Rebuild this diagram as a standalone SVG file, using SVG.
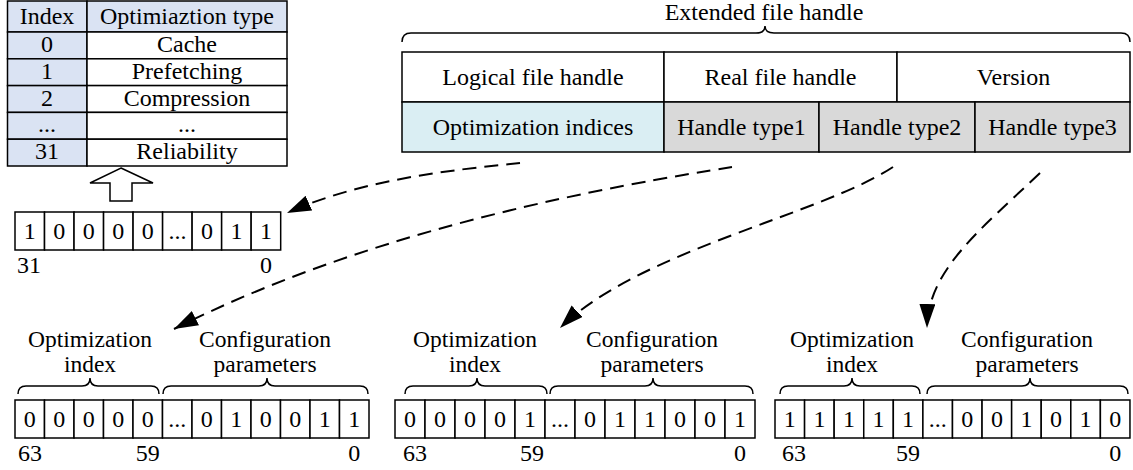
<svg xmlns="http://www.w3.org/2000/svg" width="1133" height="470" viewBox="0 0 1133 470">
<defs>
<style>
text{font-family:'Liberation Serif','Times New Roman',serif;font-size:24px;fill:#000}
.c{text-anchor:middle}
.s{text-anchor:start}
.lbl{font-size:23.5px}
.box{fill:#fff;stroke:#000;stroke-width:1.5}
.idx{fill:#dae3f3;stroke:#000;stroke-width:1.5}
.cyan{fill:#daeef3;stroke:#000;stroke-width:1.5}
.gray{fill:#d9d9d9;stroke:#000;stroke-width:1.5}
.brace{fill:none;stroke:#000;stroke-width:1.5}
.dash{fill:none;stroke:#000;stroke-width:2;stroke-dasharray:14 8}
</style>
<marker id="ah" markerUnits="userSpaceOnUse" markerWidth="26" markerHeight="18" refX="24" refY="8" orient="auto">
<path d="M0,0 L24,8 L0,16 Z" fill="#000"/>
</marker>
</defs>
<g id="index-table">
<rect class="idx" x="7.5" y="1" width="79.5" height="31"/>
<rect class="idx" x="87" y="1" width="200" height="31"/>
<rect class="idx" x="7.5" y="32" width="79.5" height="26.8"/>
<rect class="box" x="87" y="32" width="200" height="26.8"/>
<rect class="idx" x="7.5" y="58.8" width="79.5" height="26.8"/>
<rect class="box" x="87" y="58.8" width="200" height="26.8"/>
<rect class="idx" x="7.5" y="85.6" width="79.5" height="26.8"/>
<rect class="box" x="87" y="85.6" width="200" height="26.8"/>
<rect class="idx" x="7.5" y="112.4" width="79.5" height="26.8"/>
<rect class="box" x="87" y="112.4" width="200" height="26.8"/>
<rect class="idx" x="7.5" y="139.2" width="79.5" height="26.8"/>
<rect class="box" x="87" y="139.2" width="200" height="26.8"/>
<text class="c" x="47" y="24">Index</text>
<text class="c" x="187" y="24">Optimiaztion type</text>
<text class="c" x="47" y="52">0</text><text class="c" x="187" y="52">Cache</text>
<text class="c" x="47" y="79">1</text><text class="c" x="187" y="79">Prefetching</text>
<text class="c" x="47" y="105.5">2</text><text class="c" x="187" y="105.5">Compression</text>
<text class="c" x="47" y="132">...</text><text class="c" x="187" y="132">...</text>
<text class="c" x="47" y="159">31</text><text class="c" x="187" y="159">Reliability</text>
</g>
<g id="up-arrow">
<polygon points="121,168 153,183 132,183 132,201 110,201 110,183 90,183" fill="#fff" stroke="#000" stroke-width="1.5"/>
</g>
<g id="bitmap32">
<rect class="box" x="15" y="212" width="29.52" height="38"/>
<rect class="box" x="44.52" y="212" width="29.52" height="38"/>
<rect class="box" x="74.04" y="212" width="29.52" height="38"/>
<rect class="box" x="103.56" y="212" width="29.52" height="38"/>
<rect class="box" x="133.08" y="212" width="29.52" height="38"/>
<rect class="box" x="162.6" y="212" width="29.52" height="38"/>
<rect class="box" x="192.12" y="212" width="29.52" height="38"/>
<rect class="box" x="221.64" y="212" width="29.52" height="38"/>
<rect class="box" x="251.16" y="212" width="29.52" height="38"/>
<text class="c" x="29.8" y="239">1</text>
<text class="c" x="59.3" y="239">0</text>
<text class="c" x="88.8" y="239">0</text>
<text class="c" x="118.3" y="239">0</text>
<text class="c" x="147.8" y="239">0</text>
<text class="c" x="177.4" y="239">...</text>
<text class="c" x="206.9" y="239">0</text>
<text class="c" x="236.4" y="239">1</text>
<text class="c" x="265.9" y="239">1</text>
<text class="s" x="17" y="273">31</text>
<text class="c" x="266" y="273">0</text>
</g>
<g id="extended-handle">
<path class="brace" d="M402,42 Q402,33 411,33 L756,33 Q765,33 765,26 Q765,33 774,33 L1121,33 Q1130,33 1130,42"/>
<text class="c" x="764" y="20">Extended file handle</text>
<rect class="box" x="402" y="52" width="262" height="50"/>
<rect class="box" x="664" y="52" width="233" height="50"/>
<rect class="box" x="897" y="52" width="233" height="50"/>
<rect class="cyan" x="402" y="102" width="262" height="50"/>
<rect class="gray" x="664" y="102" width="155" height="50"/>
<rect class="gray" x="819" y="102" width="156" height="50"/>
<rect class="gray" x="975" y="102" width="155" height="50"/>
<text class="c" x="533" y="85">Logical file handle</text>
<text class="c" x="780.5" y="85">Real file handle</text>
<text class="c" x="1013.5" y="85">Version</text>
<text class="c" x="533" y="135">Optimization indices</text>
<text class="c" x="741.5" y="135">Handle type1</text>
<text class="c" x="897" y="135">Handle type2</text>
<text class="c" x="1052.5" y="135">Handle type3</text>
</g>
<g id="config1">
<text class="c lbl" x="90" y="347">Optimization</text>
<text class="c lbl" x="90" y="372">index</text>
<text class="c lbl" x="265" y="347">Configuration</text>
<text class="c lbl" x="265" y="372">parameters</text>
<path class="brace" d="M18,394 Q18,386 26,386 L82,386 Q90,386 90,378 Q90,386 98,386 L151,386 Q159,386 159,394"/>
<path class="brace" d="M163,394 Q163,386 171,386 L259,386 Q267,386 267,378 Q267,386 275,386 L360,386 Q368,386 368,394"/>
<rect class="box" x="15" y="400" width="29.5" height="38"/>
<rect class="box" x="44.5" y="400" width="29.5" height="38"/>
<rect class="box" x="74" y="400" width="29.5" height="38"/>
<rect class="box" x="103.5" y="400" width="29.5" height="38"/>
<rect class="box" x="133" y="400" width="29.5" height="38"/>
<rect class="box" x="162.5" y="400" width="29.5" height="38"/>
<rect class="box" x="192" y="400" width="29.5" height="38"/>
<rect class="box" x="221.5" y="400" width="29.5" height="38"/>
<rect class="box" x="251" y="400" width="29.5" height="38"/>
<rect class="box" x="280.5" y="400" width="29.5" height="38"/>
<rect class="box" x="310" y="400" width="29.5" height="38"/>
<rect class="box" x="339.5" y="400" width="29.5" height="38"/>
<text class="c" x="29.75" y="427">0</text>
<text class="c" x="59.25" y="427">0</text>
<text class="c" x="88.75" y="427">0</text>
<text class="c" x="118.25" y="427">0</text>
<text class="c" x="147.75" y="427">0</text>
<text class="c" x="177.25" y="427">...</text>
<text class="c" x="206.75" y="427">0</text>
<text class="c" x="236.25" y="427">1</text>
<text class="c" x="265.75" y="427">0</text>
<text class="c" x="295.25" y="427">0</text>
<text class="c" x="324.75" y="427">1</text>
<text class="c" x="354.25" y="427">1</text>
<text class="s" x="18" y="461">63</text>
<text class="c" x="147.75" y="461">59</text>
<text class="c" x="354.25" y="461">0</text>
</g>
<g id="config2">
<text class="c lbl" x="475" y="347">Optimization</text>
<text class="c lbl" x="475" y="372">index</text>
<text class="c lbl" x="652" y="347">Configuration</text>
<text class="c lbl" x="652" y="372">parameters</text>
<path class="brace" d="M405,394 Q405,386 413,386 L469,386 Q477,386 477,378 Q477,386 485,386 L539,386 Q547,386 547,394"/>
<path class="brace" d="M550,394 Q550,386 558,386 L645,386 Q653,386 653,378 Q653,386 661,386 L745,386 Q753,386 753,394"/>
<rect class="box" x="395" y="400" width="30" height="38"/>
<rect class="box" x="425" y="400" width="30" height="38"/>
<rect class="box" x="455" y="400" width="30" height="38"/>
<rect class="box" x="485" y="400" width="30" height="38"/>
<rect class="box" x="515" y="400" width="30" height="38"/>
<rect class="box" x="545" y="400" width="30" height="38"/>
<rect class="box" x="575" y="400" width="30" height="38"/>
<rect class="box" x="605" y="400" width="30" height="38"/>
<rect class="box" x="635" y="400" width="30" height="38"/>
<rect class="box" x="665" y="400" width="30" height="38"/>
<rect class="box" x="695" y="400" width="30" height="38"/>
<rect class="box" x="725" y="400" width="30" height="38"/>
<text class="c" x="410" y="427">0</text>
<text class="c" x="440" y="427">0</text>
<text class="c" x="470" y="427">0</text>
<text class="c" x="500" y="427">0</text>
<text class="c" x="530" y="427">1</text>
<text class="c" x="560" y="427">...</text>
<text class="c" x="590" y="427">0</text>
<text class="c" x="620" y="427">1</text>
<text class="c" x="650" y="427">1</text>
<text class="c" x="680" y="427">0</text>
<text class="c" x="710" y="427">0</text>
<text class="c" x="740" y="427">1</text>
<text class="s" x="403" y="461">63</text>
<text class="c" x="532" y="461">59</text>
<text class="c" x="740" y="461">0</text>
</g>
<g id="config3">
<text class="c lbl" x="852" y="347">Optimization</text>
<text class="c lbl" x="852" y="372">index</text>
<text class="c lbl" x="1027" y="347">Configuration</text>
<text class="c lbl" x="1027" y="372">parameters</text>
<path class="brace" d="M780,394 Q780,386 788,386 L844,386 Q852,386 852,378 Q852,386 860,386 L912,386 Q920,386 920,394"/>
<path class="brace" d="M927,394 Q927,386 935,386 L1022,386 Q1030,386 1030,378 Q1030,386 1038,386 L1120,386 Q1128,386 1128,394"/>
<rect class="box" x="775" y="400" width="29.58" height="38"/>
<rect class="box" x="804.58" y="400" width="29.58" height="38"/>
<rect class="box" x="834.16" y="400" width="29.58" height="38"/>
<rect class="box" x="863.74" y="400" width="29.58" height="38"/>
<rect class="box" x="893.32" y="400" width="29.58" height="38"/>
<rect class="box" x="922.9" y="400" width="29.58" height="38"/>
<rect class="box" x="952.48" y="400" width="29.58" height="38"/>
<rect class="box" x="982.06" y="400" width="29.58" height="38"/>
<rect class="box" x="1011.64" y="400" width="29.58" height="38"/>
<rect class="box" x="1041.22" y="400" width="29.58" height="38"/>
<rect class="box" x="1070.8" y="400" width="29.58" height="38"/>
<rect class="box" x="1100.38" y="400" width="29.58" height="38"/>
<text class="c" x="789.8" y="427">1</text>
<text class="c" x="819.4" y="427">1</text>
<text class="c" x="849" y="427">1</text>
<text class="c" x="878.5" y="427">1</text>
<text class="c" x="908.1" y="427">1</text>
<text class="c" x="937.7" y="427">...</text>
<text class="c" x="967.3" y="427">0</text>
<text class="c" x="996.9" y="427">0</text>
<text class="c" x="1026.4" y="427">1</text>
<text class="c" x="1056" y="427">0</text>
<text class="c" x="1085.6" y="427">1</text>
<text class="c" x="1115.2" y="427">0</text>
<text class="s" x="782" y="461">63</text>
<text class="c" x="908.1" y="461">59</text>
<text class="c" x="1115.2" y="461">0</text>
</g>
<g id="connectors">
<path class="dash" d="M520,163 C450,170 360,180 287,213" marker-end="url(#ah)"/>
<path class="dash" d="M732,167 C620,185 380,225 174,329" marker-end="url(#ah)"/>
<path class="dash" d="M893,167 C820,215 640,250 560,328" marker-end="url(#ah)"/>
<path class="dash" d="M1040,173 C980,230 928,270 927,328" marker-end="url(#ah)"/>
</g>
</svg>
